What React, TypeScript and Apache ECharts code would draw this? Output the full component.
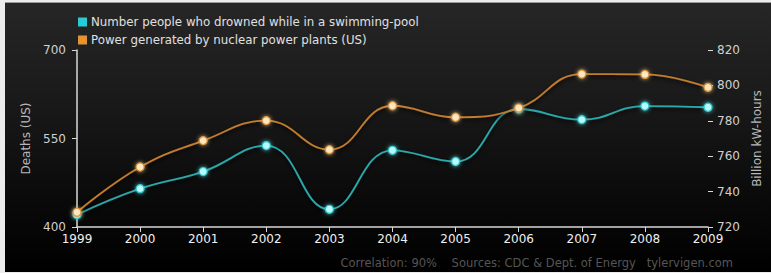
import React, { useEffect, useRef } from "react";
import * as echarts from "echarts";

const years = ["1999", "2000", "2001", "2002", "2003", "2004", "2005", "2006", "2007", "2008", "2009"];
const drowned = [421, 465, 494, 538, 430, 530, 511, 600, 582, 605, 603];
const nuclear = [728.3, 753.9, 768.8, 780.1, 763.7, 788.5, 782.0, 787.2, 806.4, 806.2, 798.9];
const seriesNames = ["Number people who drowned while in a swimming-pool", "Power generated by nuclear power plants (US)"];
const footer = "Correlation: 90%    Sources: CDC & Dept. of Energy   tylervigen.com";

const FONT = "DejaVu Sans";

export default function App() {
  const ref = useRef<HTMLDivElement>(null);
  useEffect(() => {
    document.body.style.margin = "0";
    const chart = echarts.init(ref.current!, null, { renderer: "svg" });
    const axisColor = "#d8d8d8";
    chart.setOption({
      animation: false,
      backgroundColor: "transparent",
      textStyle: { fontFamily: FONT },
      legend: {
        orient: "vertical",
        left: 68,
        top: 8,
        itemWidth: 7,
        itemHeight: 7,
        itemGap: 6,
        icon: "rect",
        textStyle: { color: "#e0e0e0", fontSize: 11.8, fontFamily: FONT },
        data: [
          { name: seriesNames[0], itemStyle: { color: "#1ccfe0" } },
          { name: seriesNames[1], itemStyle: { color: "#f3921e" } },
        ],
      },
      grid: { left: 72, right: 63, top: 47, bottom: 45 },
      xAxis: {
        type: "category",
        data: years,
        boundaryGap: false,
        axisLine: { lineStyle: { color: axisColor, width: 1.5 } },
        axisTick: { show: true, alignWithLabel: true, length: 5, lineStyle: { color: axisColor } },
        axisLabel: { color: "#f0f0f0", fontSize: 12, margin: 6, fontFamily: FONT },
        splitLine: { show: false },
      },
      yAxis: [
        {
          type: "value",
          min: 400,
          max: 700,
          interval: 150,
          position: "left",
          name: "Deaths (US)",
          nameLocation: "middle",
          nameGap: 40,
          nameTextStyle: { color: "#b8b8b8", fontSize: 12, fontFamily: FONT },
          axisLine: { show: true, lineStyle: { color: axisColor, width: 1.5 } },
          axisTick: { show: true, length: 5, lineStyle: { color: axisColor } },
          axisLabel: { color: "#d0d0d0", fontSize: 12, margin: 11, fontFamily: FONT },
          splitLine: { show: false },
        },
        {
          type: "value",
          min: 720,
          max: 820,
          interval: 20,
          position: "right",
          name: "Billion kW-hours",
          nameLocation: "middle",
          nameGap: 34,
          nameRotate: 90,
          nameTextStyle: { color: "#b8b8b8", fontSize: 12, fontFamily: FONT },
          axisLine: { show: false },
          axisTick: { show: true, length: 5, lineStyle: { color: axisColor } },
          axisLabel: { color: "#d0d0d0", fontSize: 12, margin: 9, fontFamily: FONT },
          splitLine: { show: false },
        },
      ],
      series: [
        {
          name: seriesNames[0],
          type: "line",
          yAxisIndex: 0,
          data: drowned,
          smooth: 0.45,
          symbol: "circle",
          symbolSize: 8,
          lineStyle: { color: "#2aa8aa", width: 1.8, shadowColor: "rgba(0,0,0,0.9)", shadowBlur: 4, shadowOffsetY: 2 },
          itemStyle: { color: "#b8fbff", borderColor: "#33c7cc", borderWidth: 1.2, shadowColor: "rgba(80,230,240,0.8)", shadowBlur: 4 },
          z: 3,
        },
        {
          name: seriesNames[1],
          type: "line",
          yAxisIndex: 1,
          data: nuclear,
          smooth: 0.45,
          symbol: "circle",
          symbolSize: 8,
          lineStyle: { color: "#c27b2e", width: 1.8, shadowColor: "rgba(0,0,0,0.9)", shadowBlur: 4, shadowOffsetY: 2 },
          itemStyle: { color: "#ffe7c0", borderColor: "#d99443", borderWidth: 1.2, shadowColor: "rgba(255,200,120,0.8)", shadowBlur: 4 },
          z: 4,
        },
      ],
      graphic: [
        {
          type: "text",
          right: 38,
          top: 254,
          style: { text: footer, fill: "#555555", fontSize: 11.5, fontFamily: FONT },
        },
      ],
    });
    return () => chart.dispose();
  }, []);
  return (
    <div style={{ position: "absolute", left: 0, top: 0, width: 771, height: 273, background: "#ececec" }}>
      <div
        style={{
          position: "absolute",
          left: 5,
          top: 2,
          width: 766,
          height: 270,
          borderTop: "1px solid #9a9a9a",
          boxSizing: "border-box",
          background: "linear-gradient(to bottom, #262626 0%, #1a1a1a 35%, #090909 75%, #000000 100%)",
        }}
      >
        <div ref={ref} style={{ width: 766, height: 269 }} />
      </div>
    </div>
  );
}
